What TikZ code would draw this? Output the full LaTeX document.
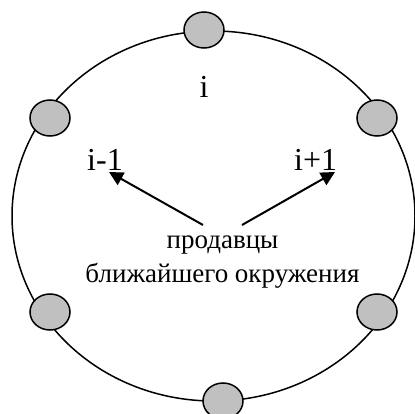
\documentclass[tikz,border=0pt]{standalone}
\usepackage{fontspec}
\setmainfont{Liberation Serif}
\usepackage{tikz}
\usepackage{xcolor}
\usetikzlibrary{arrows.meta,positioning,shapes.geometric}
\definecolor{seller}{HTML}{C0C0C0}

\begin{document}
\begin{tikzpicture}[
  x=1pt,y=-1pt,
  sbox/.style={ellipse,draw=black,line width=1.5pt,fill=seller,minimum width=40pt,minimum height=36pt,inner sep=0pt},
  lbl/.style={inner sep=0pt,font=\fontsize{32}{36}\selectfont},
  arr/.style={-{Triangle[length=14pt,width=14pt]},line width=2pt,draw=black}
]
\useasboundingbox (0,0) rectangle (415,414);
\draw[line width=1.5pt] (213.5,216) ellipse [x radius=201.5pt,y radius=185pt];
\node[sbox] (s0) at (204,30) {};
\node[sbox] (s1) at (377,118) {};
\node[sbox] (s2) at (377,312) {};
\node[sbox] (s3) at (223,401) {};
\node[sbox] (s4) at (50,312) {};
\node[sbox] (s5) at (50,118) {};
\node[lbl,anchor=base] (ci) at (204,98) {i};
\node[lbl,anchor=base west] (cl) at (87,171) {i-1};
\node[lbl,anchor=base west] (cr) at (294,171) {i+1};
\node[inner sep=0pt,align=center,font=\fontsize{27}{35}\selectfont,anchor=base] (sell) at (222.5,283) {продавцы\\ближайшего окружения};
\coordinate (tl) at (203,225); \coordinate (hl) at (109,172);
\coordinate (tr) at (242,225); \coordinate (hr) at (335,172);
\draw[arr] (tl)--(hl); \draw[arr] (tr)--(hr);
\end{tikzpicture}
\end{document}
